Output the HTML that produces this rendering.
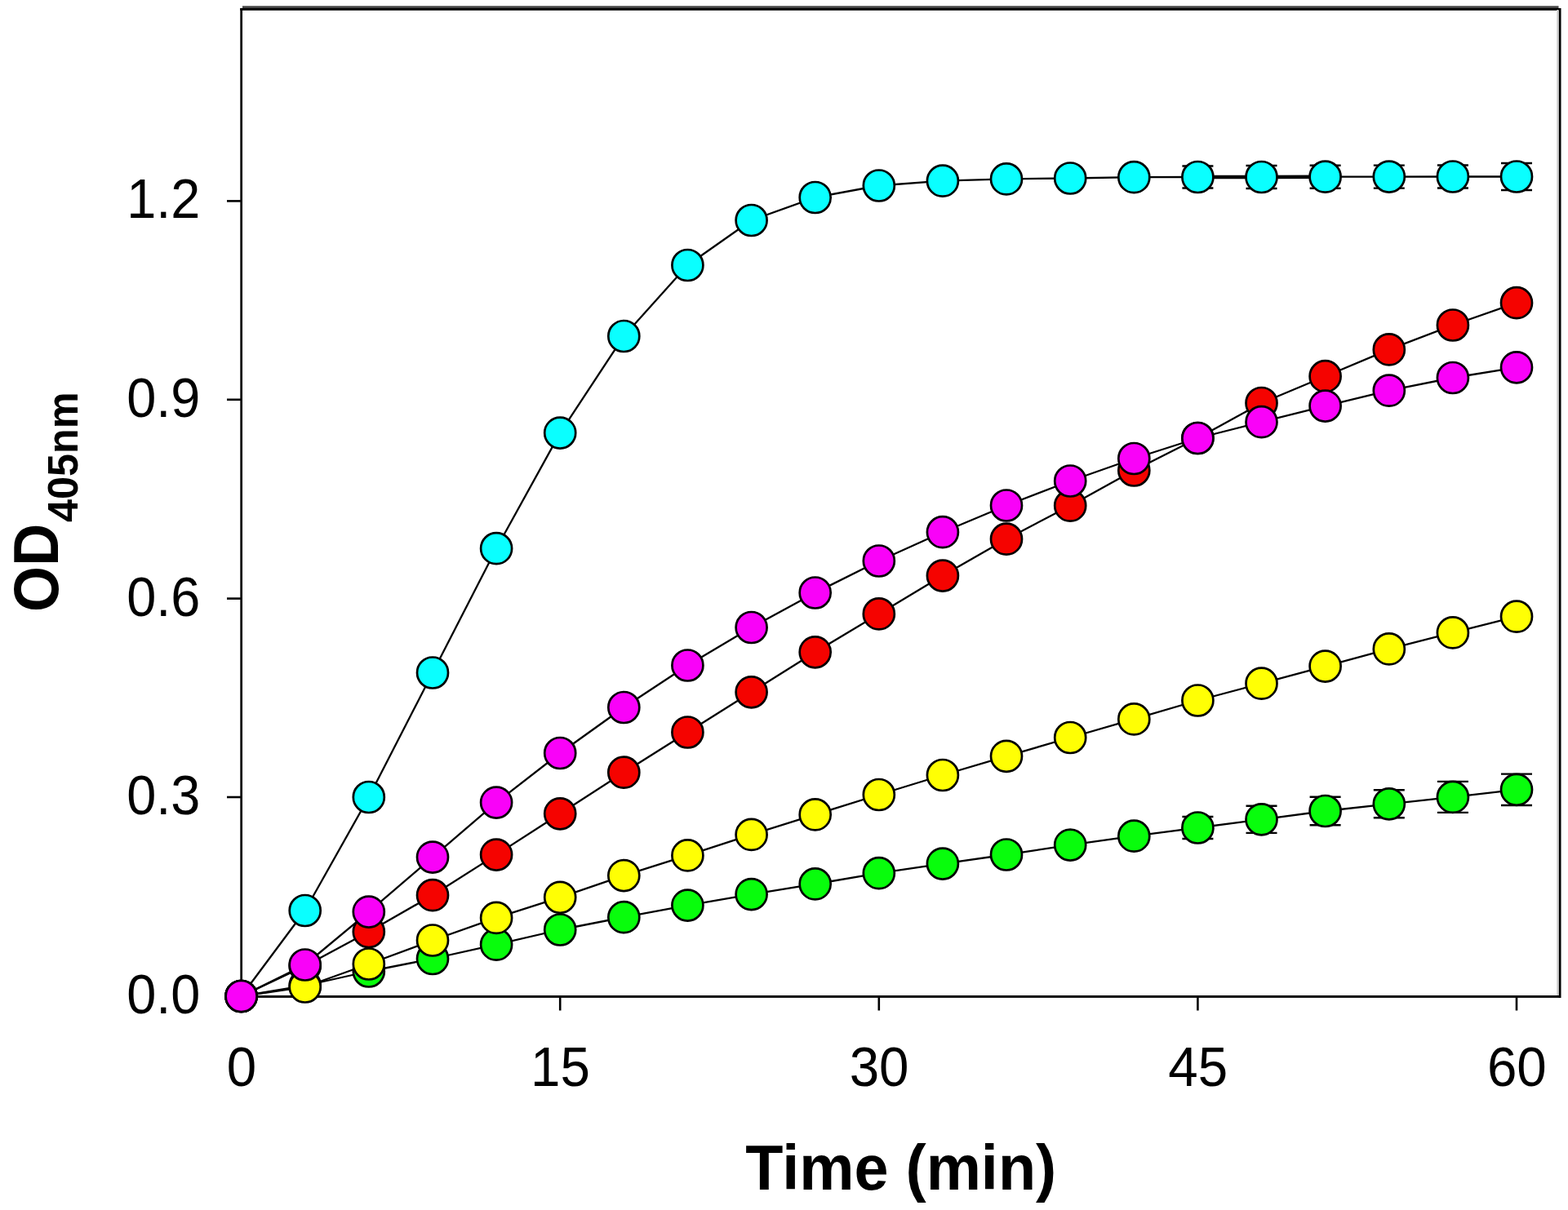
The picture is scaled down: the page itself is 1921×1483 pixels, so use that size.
<!DOCTYPE html>
<html><head><meta charset="utf-8"><title>OD405nm vs Time</title>
<style>
html,body{margin:0;padding:0;background:#fff;}
body{width:1921px;height:1483px;overflow:hidden;}
svg{display:block;}
text{font-family:"Liberation Sans",sans-serif;fill:#000;}
</style></head><body>
<svg width="1921" height="1483" viewBox="0 0 1921 1483">
<rect x="0" y="0" width="1921" height="1483" fill="#fff"/>

<g fill="#000">
<rect x="297" y="7.3" width="1612.5" height="2.8" fill="#444"/>
<rect x="294.3" y="10" width="1617.7" height="2.8"/>
<rect x="294.3" y="10" width="2.7" height="1212"/>
<rect x="1909.6" y="10" width="2.9" height="1213"/>
<rect x="1907.3" y="12" width="2.2" height="1208" fill="#ccc"/>
<rect x="294.3" y="1220" width="1617.7" height="2.9"/>
</g>
<g stroke="#000" stroke-width="2.6">
<line x1="278" y1="1220.5" x2="295" y2="1220.5"/>
<line x1="278" y1="977" x2="295" y2="977"/>
<line x1="278" y1="733.6" x2="295" y2="733.6"/>
<line x1="278" y1="489.8" x2="295" y2="489.8"/>
<line x1="278" y1="246.4" x2="295" y2="246.4"/>
<line x1="295.6" y1="1221" x2="295.6" y2="1238.5"/>
<line x1="686.2" y1="1221" x2="686.2" y2="1238.5"/>
<line x1="1076.8" y1="1221" x2="1076.8" y2="1238.5"/>
<line x1="1467.4" y1="1221" x2="1467.4" y2="1238.5"/>
<line x1="1858.0" y1="1221" x2="1858.0" y2="1238.5"/>
</g>
<g font-size="65.5px" text-anchor="end">
<text transform="translate(245.3,1241.5) scale(0.99,1.035)">0.0</text>
<text transform="translate(245.3,998.0) scale(0.99,1.035)">0.3</text>
<text transform="translate(245.3,754.6) scale(0.99,1.035)">0.6</text>
<text transform="translate(245.3,510.8) scale(0.99,1.035)">0.9</text>
<text transform="translate(245.3,267.4) scale(0.99,1.035)">1.2</text>
</g>
<g font-size="65.5px" text-anchor="middle">
<text transform="translate(295.9,1331.2) scale(1.0,1.05)">0</text>
<text transform="translate(686.5,1331.2) scale(1.0,1.05)">15</text>
<text transform="translate(1077.1,1331.2) scale(1.0,1.05)">30</text>
<text transform="translate(1467.7,1331.2) scale(1.0,1.05)">45</text>
<text transform="translate(1858.3,1331.2) scale(1.0,1.05)">60</text>
</g>
<text transform="translate(1103.8,1457.6) scale(0.995,1.02)" font-size="76px" font-weight="bold" text-anchor="middle">Time (min)</text>
<text transform="translate(71.0,750) rotate(-90) scale(0.95,1.02)" font-size="76px" font-weight="bold">OD</text>
<text transform="translate(94.8,640) rotate(-90) scale(0.987,1.03)" font-size="51px" font-weight="bold">405nm</text>
<g fill="none" stroke="#000" stroke-width="2.3" stroke-linejoin="round">
<polyline points="295.6,1221.0 373.7,1208.0 451.8,1190.5 530.0,1175.0 608.1,1157.7 686.2,1139.5 764.3,1124.2 842.4,1109.6 920.6,1096.1 998.7,1083.4 1076.8,1070.2 1154.9,1058.6 1233.0,1047.5 1311.2,1035.6 1389.3,1024.7 1467.4,1014.5 1545.5,1004.3 1623.6,994.0 1701.8,985.3 1779.9,976.9 1858.0,967.8"/>
<polyline points="295.6,1221.0 373.7,1184.0 451.8,1142.0 530.0,1097.2 608.1,1047.6 686.2,997.3 764.3,946.7 842.4,897.5 920.6,848.3 998.7,799.3 1076.8,752.4 1154.9,705.6 1233.0,660.7 1311.2,619.7 1389.3,576.5 1467.4,537.0 1545.5,494.0 1623.6,461.2 1701.8,428.4 1779.9,398.5 1858.0,371.2"/>
<polyline points="295.6,1221.0 373.7,1209.5 451.8,1181.5 530.0,1152.5 608.1,1124.9 686.2,1099.8 764.3,1073.1 842.4,1048.4 920.6,1022.9 998.7,998.4 1076.8,974.0 1154.9,950.0 1233.0,926.8 1311.2,904.0 1389.3,881.4 1467.4,858.5 1545.5,837.7 1623.6,816.6 1701.8,795.4 1779.9,775.4 1858.0,755.7"/>
<polyline points="295.6,1221.0 373.7,1116.0 451.8,977.0 530.0,824.5 608.1,672.2 686.2,530.6 764.3,412.0 842.4,325.0 920.6,270.0 998.7,242.0 1076.8,227.5 1154.9,221.7 1233.0,219.4 1311.2,218.5 1389.3,217.2 1467.4,217.0 1545.5,217.0 1623.6,216.7 1701.8,216.6 1779.9,216.5 1858.0,216.5"/>
<polyline points="295.6,1221.0 373.7,1182.5 451.8,1117.6 530.0,1050.6 608.1,983.6 686.2,923.0 764.3,867.0 842.4,815.5 920.6,769.0 998.7,726.5 1076.8,687.5 1154.9,652.2 1233.0,619.5 1311.2,589.5 1389.3,562.0 1467.4,537.0 1545.5,517.2 1623.6,497.6 1701.8,478.7 1779.9,463.0 1858.0,450.3"/>
<polyline points="1467.4,217.0 1545.5,217.0 1623.6,216.7" stroke-width="4.6"/>
</g>
<g stroke="#000" stroke-width="2.4">
<line x1="1448.4" y1="1001.0" x2="1486.4" y2="1001.0"/>
<line x1="1448.4" y1="1028.0" x2="1486.4" y2="1028.0"/>
<line x1="1526.5" y1="987.7" x2="1564.5" y2="987.7"/>
<line x1="1526.5" y1="1020.9" x2="1564.5" y2="1020.9"/>
<line x1="1604.6" y1="976.7" x2="1642.6" y2="976.7"/>
<line x1="1604.6" y1="1011.3" x2="1642.6" y2="1011.3"/>
<line x1="1682.8" y1="968.3" x2="1720.8" y2="968.3"/>
<line x1="1682.8" y1="1002.3" x2="1720.8" y2="1002.3"/>
<line x1="1760.9" y1="957.9" x2="1798.9" y2="957.9"/>
<line x1="1760.9" y1="995.9" x2="1798.9" y2="995.9"/>
<line x1="1839.0" y1="948.6" x2="1877.0" y2="948.6"/>
<line x1="1839.0" y1="987.0" x2="1877.0" y2="987.0"/>
<line x1="1448.4" y1="203.5" x2="1486.4" y2="203.5"/>
<line x1="1448.4" y1="230.5" x2="1486.4" y2="230.5"/>
<line x1="1526.5" y1="203.0" x2="1564.5" y2="203.0"/>
<line x1="1526.5" y1="231.0" x2="1564.5" y2="231.0"/>
<line x1="1604.6" y1="202.7" x2="1642.6" y2="202.7"/>
<line x1="1604.6" y1="230.7" x2="1642.6" y2="230.7"/>
<line x1="1682.8" y1="202.6" x2="1720.8" y2="202.6"/>
<line x1="1682.8" y1="230.6" x2="1720.8" y2="230.6"/>
<line x1="1760.9" y1="202.5" x2="1798.9" y2="202.5"/>
<line x1="1760.9" y1="230.5" x2="1798.9" y2="230.5"/>
<line x1="1839.0" y1="200.0" x2="1877.0" y2="200.0"/>
<line x1="1839.0" y1="233.0" x2="1877.0" y2="233.0"/>
</g>
<g fill="#08FD0C" stroke="#000" stroke-width="2.7">
<circle cx="295.6" cy="1221.0" r="19.0"/>
<circle cx="373.7" cy="1208.0" r="19.0"/>
<circle cx="451.8" cy="1190.5" r="19.0"/>
<circle cx="530.0" cy="1175.0" r="19.0"/>
<circle cx="608.1" cy="1157.7" r="19.0"/>
<circle cx="686.2" cy="1139.5" r="19.0"/>
<circle cx="764.3" cy="1124.2" r="19.0"/>
<circle cx="842.4" cy="1109.6" r="19.0"/>
<circle cx="920.6" cy="1096.1" r="19.0"/>
<circle cx="998.7" cy="1083.4" r="19.0"/>
<circle cx="1076.8" cy="1070.2" r="19.0"/>
<circle cx="1154.9" cy="1058.6" r="19.0"/>
<circle cx="1233.0" cy="1047.5" r="19.0"/>
<circle cx="1311.2" cy="1035.6" r="19.0"/>
<circle cx="1389.3" cy="1024.7" r="19.0"/>
<circle cx="1467.4" cy="1014.5" r="19.0"/>
<circle cx="1545.5" cy="1004.3" r="19.0"/>
<circle cx="1623.6" cy="994.0" r="19.0"/>
<circle cx="1701.8" cy="985.3" r="19.0"/>
<circle cx="1779.9" cy="976.9" r="19.0"/>
<circle cx="1858.0" cy="967.8" r="19.0"/>
</g>
<g fill="#F50300" stroke="#000" stroke-width="2.7">
<circle cx="295.6" cy="1221.0" r="19.0"/>
<circle cx="373.7" cy="1184.0" r="19.0"/>
<circle cx="451.8" cy="1142.0" r="19.0"/>
<circle cx="530.0" cy="1097.2" r="19.0"/>
<circle cx="608.1" cy="1047.6" r="19.0"/>
<circle cx="686.2" cy="997.3" r="19.0"/>
<circle cx="764.3" cy="946.7" r="19.0"/>
<circle cx="842.4" cy="897.5" r="19.0"/>
<circle cx="920.6" cy="848.3" r="19.0"/>
<circle cx="998.7" cy="799.3" r="19.0"/>
<circle cx="1076.8" cy="752.4" r="19.0"/>
<circle cx="1154.9" cy="705.6" r="19.0"/>
<circle cx="1233.0" cy="660.7" r="19.0"/>
<circle cx="1311.2" cy="619.7" r="19.0"/>
<circle cx="1389.3" cy="576.5" r="19.0"/>
<circle cx="1467.4" cy="537.0" r="19.0"/>
<circle cx="1545.5" cy="494.0" r="19.0"/>
<circle cx="1623.6" cy="461.2" r="19.0"/>
<circle cx="1701.8" cy="428.4" r="19.0"/>
<circle cx="1779.9" cy="398.5" r="19.0"/>
<circle cx="1858.0" cy="371.2" r="19.0"/>
</g>
<g fill="#FFFF04" stroke="#000" stroke-width="2.7">
<circle cx="295.6" cy="1221.0" r="19.0"/>
<circle cx="373.7" cy="1209.5" r="19.0"/>
<circle cx="451.8" cy="1181.5" r="19.0"/>
<circle cx="530.0" cy="1152.5" r="19.0"/>
<circle cx="608.1" cy="1124.9" r="19.0"/>
<circle cx="686.2" cy="1099.8" r="19.0"/>
<circle cx="764.3" cy="1073.1" r="19.0"/>
<circle cx="842.4" cy="1048.4" r="19.0"/>
<circle cx="920.6" cy="1022.9" r="19.0"/>
<circle cx="998.7" cy="998.4" r="19.0"/>
<circle cx="1076.8" cy="974.0" r="19.0"/>
<circle cx="1154.9" cy="950.0" r="19.0"/>
<circle cx="1233.0" cy="926.8" r="19.0"/>
<circle cx="1311.2" cy="904.0" r="19.0"/>
<circle cx="1389.3" cy="881.4" r="19.0"/>
<circle cx="1467.4" cy="858.5" r="19.0"/>
<circle cx="1545.5" cy="837.7" r="19.0"/>
<circle cx="1623.6" cy="816.6" r="19.0"/>
<circle cx="1701.8" cy="795.4" r="19.0"/>
<circle cx="1779.9" cy="775.4" r="19.0"/>
<circle cx="1858.0" cy="755.7" r="19.0"/>
</g>
<g fill="#0AFFFF" stroke="#000" stroke-width="2.7">
<circle cx="295.6" cy="1221.0" r="19.0"/>
<circle cx="373.7" cy="1116.0" r="19.0"/>
<circle cx="451.8" cy="977.0" r="19.0"/>
<circle cx="530.0" cy="824.5" r="19.0"/>
<circle cx="608.1" cy="672.2" r="19.0"/>
<circle cx="686.2" cy="530.6" r="19.0"/>
<circle cx="764.3" cy="412.0" r="19.0"/>
<circle cx="842.4" cy="325.0" r="19.0"/>
<circle cx="920.6" cy="270.0" r="19.0"/>
<circle cx="998.7" cy="242.0" r="19.0"/>
<circle cx="1076.8" cy="227.5" r="19.0"/>
<circle cx="1154.9" cy="221.7" r="19.0"/>
<circle cx="1233.0" cy="219.4" r="19.0"/>
<circle cx="1311.2" cy="218.5" r="19.0"/>
<circle cx="1389.3" cy="217.2" r="19.0"/>
<circle cx="1467.4" cy="217.0" r="19.0"/>
<circle cx="1545.5" cy="217.0" r="19.0"/>
<circle cx="1623.6" cy="216.7" r="19.0"/>
<circle cx="1701.8" cy="216.6" r="19.0"/>
<circle cx="1779.9" cy="216.5" r="19.0"/>
<circle cx="1858.0" cy="216.5" r="19.0"/>
</g>
<g fill="#F902F8" stroke="#000" stroke-width="2.7">
<circle cx="295.6" cy="1221.0" r="19.0"/>
<circle cx="373.7" cy="1182.5" r="19.0"/>
<circle cx="451.8" cy="1117.6" r="19.0"/>
<circle cx="530.0" cy="1050.6" r="19.0"/>
<circle cx="608.1" cy="983.6" r="19.0"/>
<circle cx="686.2" cy="923.0" r="19.0"/>
<circle cx="764.3" cy="867.0" r="19.0"/>
<circle cx="842.4" cy="815.5" r="19.0"/>
<circle cx="920.6" cy="769.0" r="19.0"/>
<circle cx="998.7" cy="726.5" r="19.0"/>
<circle cx="1076.8" cy="687.5" r="19.0"/>
<circle cx="1154.9" cy="652.2" r="19.0"/>
<circle cx="1233.0" cy="619.5" r="19.0"/>
<circle cx="1311.2" cy="589.5" r="19.0"/>
<circle cx="1389.3" cy="562.0" r="19.0"/>
<circle cx="1467.4" cy="537.0" r="19.0"/>
<circle cx="1545.5" cy="517.2" r="19.0"/>
<circle cx="1623.6" cy="497.6" r="19.0"/>
<circle cx="1701.8" cy="478.7" r="19.0"/>
<circle cx="1779.9" cy="463.0" r="19.0"/>
<circle cx="1858.0" cy="450.3" r="19.0"/>
</g>
</svg>
</body></html>
